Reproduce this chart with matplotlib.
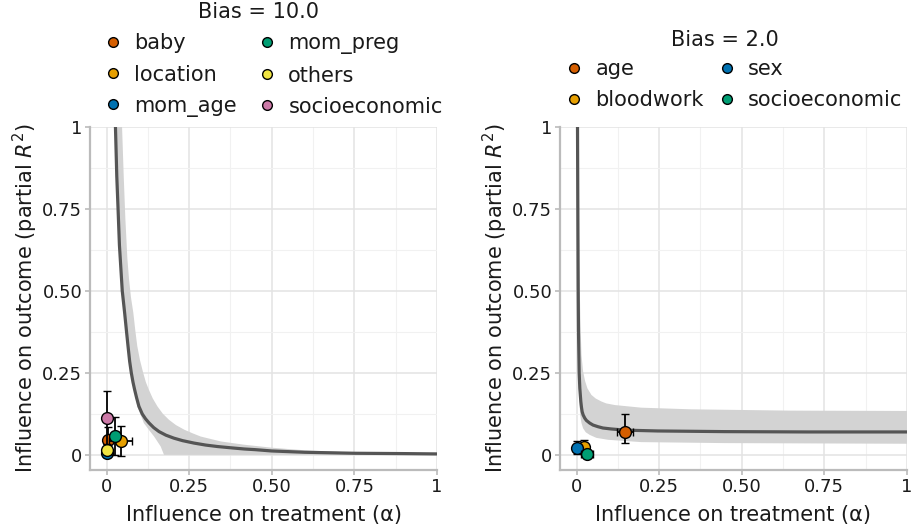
import matplotlib
matplotlib.use("Agg")
import matplotlib.pyplot as plt
from matplotlib.lines import Line2D
import numpy as np

######## data

# left panel: bias = 10.0
left_curve_alpha = [0.027, 0.031, 0.035, 0.039, 0.0445, 0.0476, 0.0547, 0.0607, 0.065,
                    0.07, 0.075, 0.08, 0.085, 0.091, 0.098, 0.108, 0.118, 0.129, 0.143,
                    0.159, 0.18, 0.204, 0.23, 0.265, 0.3, 0.336, 0.38, 0.417, 0.45,
                    0.5, 0.6, 0.75, 0.9, 1.0]
left_curve_r2 = [1.0, 0.85, 0.747, 0.64, 0.55, 0.5, 0.434, 0.374, 0.332,
                 0.285, 0.25, 0.222, 0.199, 0.174, 0.148, 0.125, 0.110, 0.097, 0.083,
                 0.071, 0.060, 0.051, 0.0435, 0.036, 0.030, 0.0255, 0.0213, 0.018, 0.016,
                 0.012, 0.008, 0.005, 0.004, 0.003]
left_band_up_alpha = [0.047, 0.052, 0.057, 0.063, 0.068, 0.074, 0.081, 0.087, 0.093, 0.101,
                      0.111, 0.119, 0.128, 0.14, 0.154, 0.17, 0.189, 0.21, 0.235, 0.26,
                      0.285, 0.346, 0.417, 0.5, 0.6, 0.75, 1.0]
left_band_up_r2 = [1.0, 0.85, 0.72, 0.6, 0.536, 0.48, 0.434, 0.38, 0.332, 0.29,
                   0.25, 0.222, 0.199, 0.172, 0.148, 0.126, 0.107, 0.091, 0.077, 0.066,
                   0.056, 0.041, 0.031, 0.022, 0.014, 0.007, 0.003]
left_band_lo_alpha = [0.027, 0.045, 0.06, 0.075, 0.093, 0.113, 0.13, 0.144, 0.164, 0.174, 1.0]
left_band_lo_r2 = [1.0, 0.536, 0.36, 0.25, 0.148, 0.097, 0.074, 0.056, 0.0255, 0.0, 0.0]

left_names = ["baby", "location", "mom_age", "mom_preg", "others", "socioeconomic"]
left_colors = ["#D55E00", "#E69F00", "#0072B2", "#009E73", "#F0E442", "#CC79A7"]
left_alpha = [0.004, 0.043, 0.002, 0.025, 0.002, 0.0]
left_r2 = [0.044, 0.042, 0.005, 0.058, 0.015, 0.114]
left_alpha_err = [0.004, 0.035, 0.003, 0.006, 0.003, 0.002]
left_r2_err = [0.04, 0.045, 0.01, 0.057, 0.012, 0.082]

# right panel: bias = 2.0
right_curve_alpha = [0.003, 0.004, 0.005, 0.006, 0.008, 0.010, 0.013, 0.015, 0.017, 0.020,
                     0.025, 0.030, 0.040, 0.050, 0.065, 0.080, 0.106, 0.13, 0.166, 0.246,
                     0.448, 0.7, 1.0]
right_curve_r2 = [1.0, 0.75, 0.508, 0.376, 0.251, 0.203, 0.163, 0.145, 0.132, 0.122,
                  0.112, 0.105, 0.097, 0.091, 0.086, 0.082, 0.079, 0.077, 0.075, 0.073,
                  0.071, 0.070, 0.070]
right_band_up_alpha = [0.005, 0.008, 0.012, 0.015, 0.020, 0.026, 0.033, 0.045, 0.058, 0.075,
                       0.09, 0.116, 0.196, 0.347, 0.649, 1.0]
right_band_up_r2 = [1.0, 0.6, 0.4, 0.305, 0.254, 0.225, 0.203, 0.183, 0.172, 0.163,
                    0.157, 0.152, 0.144, 0.139, 0.135, 0.134]
right_band_lo_alpha = [0.003, 0.005, 0.007, 0.011, 0.015, 0.020, 0.028, 0.040, 0.06, 0.096,
                       0.196, 0.448, 1.0]
right_band_lo_r2 = [1.0, 0.5, 0.203, 0.122, 0.097, 0.081, 0.069, 0.061, 0.052, 0.046,
                    0.039, 0.036, 0.034]

right_names = ["age", "bloodwork", "sex", "socioeconomic"]
right_colors = ["#D55E00", "#E69F00", "#0072B2", "#009E73"]
right_alpha = [0.146, 0.023, 0.0, 0.032]
right_r2 = [0.071, 0.025, 0.020, 0.002]
right_alpha_err = [0.025, 0.006, 0.008, 0.019]
right_r2_err = [[0.035, 0.021, 0.017, 0.004], [0.053, 0.021, 0.021, 0.004]]

ticks = [0, 0.25, 0.5, 0.75, 1]
tick_labels = ["0", "0.25", "0.50", "0.75", "1"]
minor_ticks = [0.125, 0.375, 0.625, 0.875]

TXT = "#1a1a1a"


def style_axes(ax):
    ax.set_xlim(-0.05, 1.0)
    ax.set_ylim(-0.046, 1.0)
    ax.set_xticks(ticks)
    ax.set_xticklabels(tick_labels)
    ax.set_yticks(ticks)
    ax.set_yticklabels(tick_labels)
    ax.set_xticks(minor_ticks, minor=True)
    ax.set_yticks(minor_ticks, minor=True)
    ax.grid(which="major", color="#e3e3e3", lw=1.1)
    ax.grid(which="minor", color="#f1f1f1", lw=0.8)
    ax.set_axisbelow(True)
    for s in ["top", "right"]:
        ax.spines[s].set_visible(False)
    for s in ["left", "bottom"]:
        ax.spines[s].set_color("#bbbbbb")
        ax.spines[s].set_linewidth(1.6)
    ax.tick_params(which="major", length=3.5, width=1.2, color="#bbbbbb",
                   labelsize=13, labelcolor=TXT, pad=2)
    ax.tick_params(which="minor", length=0)
    ax.set_xlabel("Influence on treatment (α)", fontsize=15, color=TXT, labelpad=7)
    ax.set_ylabel(r"Influence on outcome (partial $R^2$)", fontsize=15,
                  color=TXT, labelpad=1.5)


def draw_panel(ax, ca, cr, ua, ur, la, lr, names, colors, xs, ys, xe, ye):
    band_x = np.concatenate([ua, la[::-1]])
    band_y = np.concatenate([ur, lr[::-1]])
    ax.fill(band_x, band_y, color="#d3d3d3", lw=0, zorder=1)
    ax.plot(ca, cr, color="#555555", lw=2.3, zorder=2, solid_joinstyle="round")
    for i, name in enumerate(names):
        if isinstance(ye[0], list):
            yerr = [[ye[0][i]], [ye[1][i]]]
        else:
            yerr = ye[i]
        ax.errorbar(xs[i], ys[i], xerr=xe[i], yerr=yerr, fmt="o", color="black",
                    ecolor="black", elinewidth=1.3, capsize=3, capthick=1.3,
                    markersize=8.5, markerfacecolor=colors[i], markeredgecolor="black",
                    markeredgewidth=1.0, zorder=3 + i)


fig = plt.figure(figsize=(9.11, 5.31), dpi=100)
ax1 = fig.add_axes([0.0988, 0.1149, 0.3809, 0.646])
ax2 = fig.add_axes([0.6147, 0.1149, 0.3809, 0.646])

draw_panel(ax1, np.array(left_curve_alpha), np.array(left_curve_r2),
           np.array(left_band_up_alpha), np.array(left_band_up_r2),
           np.array(left_band_lo_alpha), np.array(left_band_lo_r2),
           left_names, left_colors, left_alpha, left_r2, left_alpha_err, left_r2_err)
draw_panel(ax2, np.array(right_curve_alpha), np.array(right_curve_r2),
           np.array(right_band_up_alpha), np.array(right_band_up_r2),
           np.array(right_band_lo_alpha), np.array(right_band_lo_r2),
           right_names, right_colors, right_alpha, right_r2, right_alpha_err, right_r2_err)
style_axes(ax1)
style_axes(ax2)


def add_legend(names, colors, title, title_xy, anchor, colspace):
    handles = [Line2D([], [], marker="o", ls="", markersize=7, markerfacecolor=c,
                      markeredgecolor="black", markeredgewidth=1.0) for c in colors]
    leg = fig.legend(handles, names, ncol=2, loc="center left",
                     bbox_to_anchor=anchor, frameon=False, fontsize=15,
                     handlelength=1.0, handletextpad=0.5,
                     columnspacing=colspace, labelspacing=0.53, borderpad=0,
                     borderaxespad=0)
    for t in leg.get_texts():
        t.set_color(TXT)
    fig.text(title_xy[0], title_xy[1], title, fontsize=15, color=TXT,
             ha="center", va="center")


add_legend(left_names, left_colors, "Bias = 10.0", (0.2843, 0.9774),
           (0.1126, 0.8587), 0.99)
add_legend(right_names, right_colors, "Bias = 2.0", (0.7958, 0.9247),
           (0.6191, 0.8409), 0.62)

fig.savefig("out.png", dpi=100, facecolor="white")
